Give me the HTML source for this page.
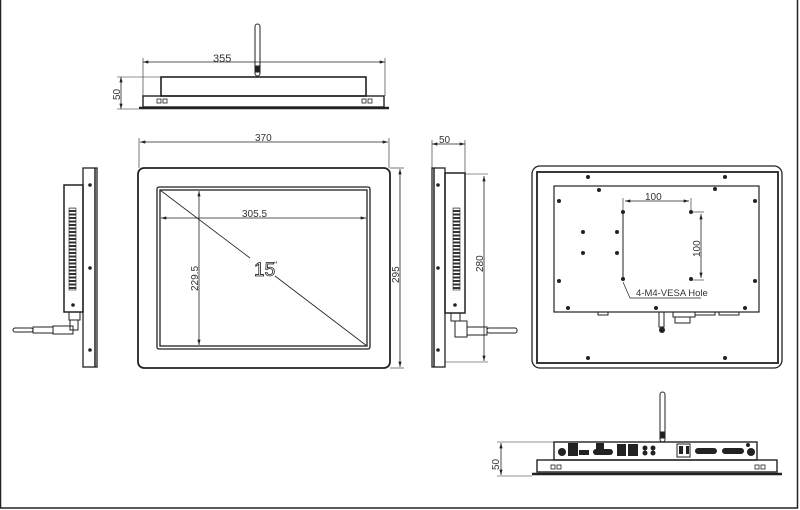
<!DOCTYPE html>
<html><head><meta charset="utf-8"><style>
html,body{margin:0;padding:0;background:#fff;}
svg{display:block;}
text{font-family:"Liberation Sans",sans-serif;fill:#333;}
</style></head><body>
<svg width="800" height="510" viewBox="0 0 800 510" xmlns="http://www.w3.org/2000/svg">
<defs>
<marker id="a" viewBox="0 0 10 6" refX="10" refY="3" markerWidth="7" markerHeight="4" orient="auto-start-reverse"><path d="M0,0L10,3L0,6z" fill="#222"/></marker>
<pattern id="v" width="7" height="3.5" patternUnits="userSpaceOnUse"><rect x="0" y="0" width="7" height="2" fill="#333"/></pattern>
</defs>
<g fill="none" stroke="#222">
<rect x="0.5" y="-2" width="797" height="510" stroke-width="1.5"/>

<!-- TOP VIEW -->
<rect x="255" y="24" width="5" height="52" rx="2.5" stroke-width="1"/>
<rect x="255" y="66" width="5" height="6" fill="#222"/>
<line x1="143" y1="62" x2="385" y2="62" stroke-width="0.8" marker-start="url(#a)" marker-end="url(#a)"/>
<line x1="143" y1="58" x2="143" y2="96" stroke-width="0.6"/>
<line x1="385" y1="58" x2="385" y2="96" stroke-width="0.6"/>
<rect x="161" y="77" width="205" height="19" stroke-width="1.6"/>
<rect x="143" y="96" width="241" height="11" stroke-width="1.4"/>
<line x1="139" y1="108" x2="389" y2="108" stroke-width="2.5"/>
<rect x="157" y="99" width="4" height="4" stroke-width="0.8"/><rect x="163" y="99" width="4" height="4" stroke-width="0.8"/>
<rect x="362" y="99" width="4" height="4" stroke-width="0.8"/><rect x="368" y="99" width="4" height="4" stroke-width="0.8"/>
<line x1="121" y1="77" x2="121" y2="109" stroke-width="0.8" marker-start="url(#a)" marker-end="url(#a)"/>
<line x1="117" y1="77" x2="161" y2="77" stroke-width="0.6"/>
<line x1="117" y1="109" x2="139" y2="109" stroke-width="0.6"/>

<!-- FRONT VIEW -->
<line x1="140" y1="142" x2="388" y2="142" stroke-width="0.8" marker-start="url(#a)" marker-end="url(#a)"/>
<line x1="139" y1="138" x2="139" y2="168" stroke-width="0.6"/>
<line x1="389" y1="138" x2="389" y2="168" stroke-width="0.6"/>
<rect x="138" y="168" width="252" height="200" rx="6" stroke-width="1.8"/>
<rect x="157" y="187" width="213" height="162" rx="2" stroke-width="1.3"/>
<rect x="160" y="190" width="207" height="156" stroke-width="1.3"/>
<line x1="160" y1="190" x2="250" y2="258" stroke-width="0.8"/>
<line x1="275" y1="276" x2="367" y2="346" stroke-width="0.8"/>
<line x1="161" y1="218" x2="366" y2="218" stroke-width="0.8" marker-start="url(#a)" marker-end="url(#a)"/>
<line x1="199" y1="191" x2="199" y2="345" stroke-width="0.8" marker-start="url(#a)" marker-end="url(#a)"/>
<line x1="400" y1="169" x2="400" y2="367" stroke-width="0.8" marker-start="url(#a)" marker-end="url(#a)"/>
<line x1="390" y1="168" x2="404" y2="168" stroke-width="0.6"/>
<line x1="390" y1="368" x2="404" y2="368" stroke-width="0.6"/>

<!-- LEFT SIDE VIEW -->
<rect x="83" y="168" width="14" height="199" stroke-width="1.3"/>
<line x1="95" y1="168" x2="95" y2="367" stroke-width="1.5"/>
<rect x="64" y="185" width="19" height="127" stroke-width="1.5"/>
<rect x="69" y="208" width="7" height="82" fill="url(#v)" stroke-width="0.6"/>
<rect x="69" y="312" width="11" height="8" stroke-width="1"/>
<rect x="70" y="320" width="8" height="10" stroke-width="1"/>
<rect x="13" y="328" width="20" height="4" rx="2" stroke-width="1"/>
<rect x="33" y="327" width="20" height="6" stroke-width="1"/>
<rect x="53" y="326" width="20" height="8" stroke-width="1"/>

<!-- RIGHT SIDE VIEW -->
<line x1="432" y1="144" x2="465" y2="144" stroke-width="0.8" marker-start="url(#a)" marker-end="url(#a)"/>
<line x1="432" y1="140" x2="432" y2="168" stroke-width="0.6"/>
<line x1="465" y1="140" x2="465" y2="173" stroke-width="0.6"/>
<rect x="432" y="168" width="13" height="199" stroke-width="1.3"/>
<line x1="434" y1="168" x2="434" y2="367" stroke-width="1.5"/>
<rect x="445" y="173" width="20" height="140" stroke-width="1.5"/>
<rect x="453" y="208" width="7" height="82" fill="url(#v)" stroke-width="0.6"/>
<rect x="451" y="313" width="9" height="8" stroke-width="1"/>
<rect x="455" y="321" width="12" height="16" stroke-width="1"/>
<rect x="467" y="327" width="20" height="8" stroke-width="1"/>
<rect x="487" y="328" width="30" height="5" rx="2" stroke-width="1"/>
<line x1="484" y1="176" x2="484" y2="361" stroke-width="0.8" marker-start="url(#a)" marker-end="url(#a)"/>
<line x1="465" y1="174" x2="488" y2="174" stroke-width="0.6"/>
<line x1="445" y1="362" x2="488" y2="362" stroke-width="0.6"/>

<!-- BACK VIEW -->
<rect x="532" y="166" width="250" height="202" rx="8" stroke-width="1.3"/>
<rect x="537" y="172" width="241" height="191" stroke-width="1.8"/>
<rect x="554" y="186" width="205" height="126" stroke-width="1.2"/>
<polyline points="623,211 623,280" stroke-width="1"/>
<line x1="625" y1="201" x2="689" y2="201" stroke-width="0.8" marker-start="url(#a)" marker-end="url(#a)"/>
<line x1="623" y1="198" x2="623" y2="211" stroke-width="0.6"/>
<line x1="691" y1="198" x2="691" y2="211" stroke-width="0.6"/>
<line x1="701" y1="214" x2="701" y2="278" stroke-width="0.8" marker-start="url(#a)" marker-end="url(#a)"/>
<line x1="691" y1="212" x2="704" y2="212" stroke-width="0.6"/>
<line x1="691" y1="280" x2="704" y2="280" stroke-width="0.6"/>
<polyline points="623,282 630,298 701,298" stroke-width="0.7"/>
<rect x="598" y="312" width="10" height="3" stroke-width="1"/>
<rect x="673" y="312" width="22" height="5" stroke-width="1"/>
<rect x="675" y="317" width="15" height="6" stroke-width="1"/>
<rect x="695" y="312" width="20" height="3" stroke-width="1"/>
<rect x="719" y="312" width="20" height="3" stroke-width="1"/>
<rect x="659" y="312" width="5" height="15" stroke-width="1"/>

<!-- BOTTOM VIEW -->
<rect x="660" y="392" width="5" height="50" rx="2.5" stroke-width="1"/>
<rect x="660" y="432" width="5" height="6" fill="#222"/>
<rect x="554" y="442" width="203" height="18" stroke-width="1.4"/>
<rect x="537" y="460" width="240" height="12" stroke-width="1.4"/>
<line x1="532" y1="474" x2="782" y2="474" stroke-width="2.5"/>
<rect x="551" y="465" width="4" height="4" stroke-width="0.8"/><rect x="557" y="465" width="4" height="4" stroke-width="0.8"/>
<rect x="755" y="465" width="4" height="4" stroke-width="0.8"/><rect x="761" y="465" width="4" height="4" stroke-width="0.8"/>
<line x1="501" y1="443" x2="501" y2="475" stroke-width="0.8" marker-start="url(#a)" marker-end="url(#a)"/>
<line x1="497" y1="442" x2="554" y2="442" stroke-width="0.6"/>
<line x1="497" y1="476" x2="532" y2="476" stroke-width="0.6"/>
<rect x="677" y="444" width="13" height="13" stroke-width="1"/>
</g>

<g fill="#222">
<circle cx="90" cy="185" r="1.8"/><circle cx="90" cy="268" r="1.8"/><circle cx="90" cy="350" r="1.8"/>
<circle cx="73" cy="305" r="1.8"/>
<circle cx="438" cy="185" r="1.8"/><circle cx="438" cy="268" r="1.8"/><circle cx="438" cy="350" r="1.8"/>
<circle cx="455" cy="305" r="1.8"/>
<circle cx="588" cy="177" r="2"/><circle cx="725" cy="177" r="2"/>
<circle cx="599" cy="190" r="2"/><circle cx="715" cy="189" r="2"/>
<circle cx="559" cy="201" r="2"/><circle cx="755" cy="201" r="2"/>
<circle cx="623" cy="212" r="2"/><circle cx="691" cy="212" r="2"/>
<circle cx="623" cy="279" r="2"/><circle cx="691" cy="279" r="2"/>
<circle cx="583" cy="232" r="2"/><circle cx="617" cy="232" r="2"/>
<circle cx="583" cy="253" r="2"/><circle cx="617" cy="253" r="2"/>
<circle cx="559" cy="281" r="2"/><circle cx="755" cy="281" r="2"/>
<circle cx="568" cy="308" r="2"/><circle cx="656" cy="308" r="2"/><circle cx="745" cy="308" r="2"/>
<circle cx="588" cy="358" r="2"/><circle cx="725" cy="358" r="2"/>
<circle cx="662" cy="330" r="3"/>
<circle cx="562" cy="452" r="4"/>
<rect x="568" y="443" width="10" height="13"/>
<rect x="579" y="450" width="10" height="5"/>
<rect x="596" y="443" width="8" height="7"/>
<rect x="593" y="449" width="20" height="6" rx="3"/>
<rect x="617" y="444" width="9" height="12"/>
<rect x="628" y="444" width="10" height="12"/>
<circle cx="645" cy="448" r="2.5"/><circle cx="645" cy="453" r="2.5"/>
<circle cx="653" cy="448" r="2.5"/><circle cx="653" cy="453" r="2.5"/>
<rect x="679" y="446" width="4" height="8"/><rect x="686" y="446" width="3" height="8"/>
<rect x="695" y="448" width="22" height="6" rx="3"/>
<rect x="722" y="448" width="22" height="6" rx="3"/>
<circle cx="748" cy="445" r="2"/><circle cx="751" cy="452" r="4"/>
</g>

<text x="213" y="62" font-size="11">355</text>
<text transform="translate(120,100) rotate(-90)" font-size="10">50</text>
<text x="255" y="141" font-size="10">370</text>
<text x="242" y="217" font-size="10">305.5</text>
<text transform="translate(198,291) rotate(-90)" font-size="10">229.5</text>
<text transform="translate(399,283) rotate(-90)" font-size="10">295</text>
<text x="254" y="276" font-size="19" style="fill:none;stroke:#222;stroke-width:0.8">15</text>
<text x="274" y="268" font-size="9">"</text>
<text x="439" y="143" font-size="10">50</text>
<text transform="translate(483,272) rotate(-90)" font-size="10">280</text>
<text x="645" y="200" font-size="10">100</text>
<text transform="translate(700,257) rotate(-90)" font-size="10">100</text>
<text x="636" y="296" font-size="9.5">4-M4-VESA Hole</text>
<text transform="translate(499,470) rotate(-90)" font-size="10">50</text>
</svg>
</body></html>
